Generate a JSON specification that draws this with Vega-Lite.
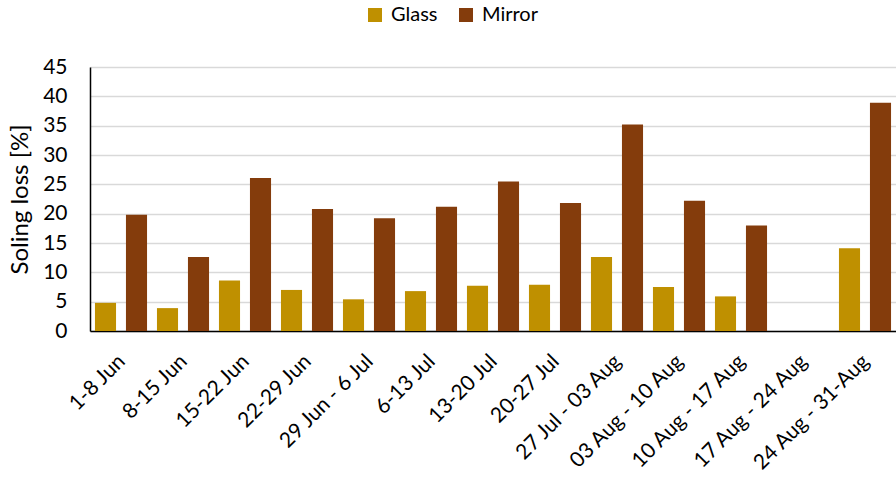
{
  "$schema": "https://vega.github.io/schema/vega-lite/v6.json",
  "autosize": "none",
  "width": 806,
  "height": 264,
  "padding": {"left": 90, "top": 67, "right": 0, "bottom": 148},
  "background": "white",
  "config": {
    "font": "Lato",
    "view": {"stroke": null}
  },
  "data": {
    "values": [
      {"period": "1-8 Jun", "type": "Glass", "loss": 4.8},
      {"period": "1-8 Jun", "type": "Mirror", "loss": 19.8},
      {"period": "8-15 Jun", "type": "Glass", "loss": 3.9},
      {"period": "8-15 Jun", "type": "Mirror", "loss": 12.6},
      {"period": "15-22 Jun", "type": "Glass", "loss": 8.6},
      {"period": "15-22 Jun", "type": "Mirror", "loss": 26.1},
      {"period": "22-29 Jun", "type": "Glass", "loss": 7.0},
      {"period": "22-29 Jun", "type": "Mirror", "loss": 20.8},
      {"period": "29 Jun - 6 Jul", "type": "Glass", "loss": 5.4},
      {"period": "29 Jun - 6 Jul", "type": "Mirror", "loss": 19.2},
      {"period": "6-13 Jul", "type": "Glass", "loss": 6.8},
      {"period": "6-13 Jul", "type": "Mirror", "loss": 21.2},
      {"period": "13-20 Jul", "type": "Glass", "loss": 7.7},
      {"period": "13-20 Jul", "type": "Mirror", "loss": 25.5},
      {"period": "20-27 Jul", "type": "Glass", "loss": 7.9},
      {"period": "20-27 Jul", "type": "Mirror", "loss": 21.8},
      {"period": "27 Jul - 03 Aug", "type": "Glass", "loss": 12.6},
      {"period": "27 Jul - 03 Aug", "type": "Mirror", "loss": 35.2},
      {"period": "03 Aug - 10 Aug", "type": "Glass", "loss": 7.5},
      {"period": "03 Aug - 10 Aug", "type": "Mirror", "loss": 22.2},
      {"period": "10 Aug - 17 Aug", "type": "Glass", "loss": 5.9},
      {"period": "10 Aug - 17 Aug", "type": "Mirror", "loss": 18.0},
      {"period": "24 Aug - 31-Aug", "type": "Glass", "loss": 14.1},
      {"period": "24 Aug - 31-Aug", "type": "Mirror", "loss": 38.9}
    ]
  },
  "mark": {"type": "bar"},
  "encoding": {
    "x": {
      "field": "period",
      "type": "nominal",
      "scale": {
        "domain": ["1-8 Jun", "8-15 Jun", "15-22 Jun", "22-29 Jun", "29 Jun - 6 Jul", "6-13 Jul", "13-20 Jul", "20-27 Jul", "27 Jul - 03 Aug", "03 Aug - 10 Aug", "10 Aug - 17 Aug", "17 Aug - 24 Aug", "24 Aug - 31-Aug"],
        "paddingInner": 0.16,
        "paddingOuter": 0.08
      },
      "axis": {
        "title": null,
        "labelAngle": -45,
        "labelAlign": "right",
        "labelBaseline": "middle",
        "labelFontSize": 21,
        "labelColor": "#000000",
        "labelPadding": 27,
        "labelOffset": 1,
        "ticks": false,
        "domainColor": "#000000",
        "domainWidth": 1.5,
        "grid": false
      }
    },
    "xOffset": {
      "field": "type",
      "type": "nominal",
      "scale": {"paddingInner": 0.32, "paddingOuter": 0}
    },
    "y": {
      "field": "loss",
      "type": "quantitative",
      "scale": {"domain": [0, 45], "nice": false},
      "axis": {
        "title": "Soling loss [%]",
        "titleFontSize": 24,
        "titleFontWeight": "normal",
        "titleColor": "#000000",
        "titlePadding": 10,
        "values": [0, 5, 10, 15, 20, 25, 30, 35, 40, 45],
        "labelFontSize": 21,
        "labelColor": "#000000",
        "labelPadding": 23,
        "ticks": false,
        "domainColor": "#000000",
        "domainWidth": 1.5,
        "gridColor": "#d9d9d9",
        "gridWidth": 1.5
      }
    },
    "color": {
      "field": "type",
      "type": "nominal",
      "scale": {"domain": ["Glass", "Mirror"], "range": ["#BF9000", "#843C0C"]},
      "legend": {
        "title": null,
        "orient": "none",
        "direction": "horizontal",
        "legendX": 275,
        "legendY": -62,
        "padding": 0,
        "symbolType": "square",
        "symbolSize": 196,
        "symbolStrokeWidth": 0,
        "symbolOpacity": 1,
        "labelFontSize": 20,
        "labelColor": "#000000",
        "labelOffset": 6,
        "columnPadding": 18
      }
    }
  }
}
